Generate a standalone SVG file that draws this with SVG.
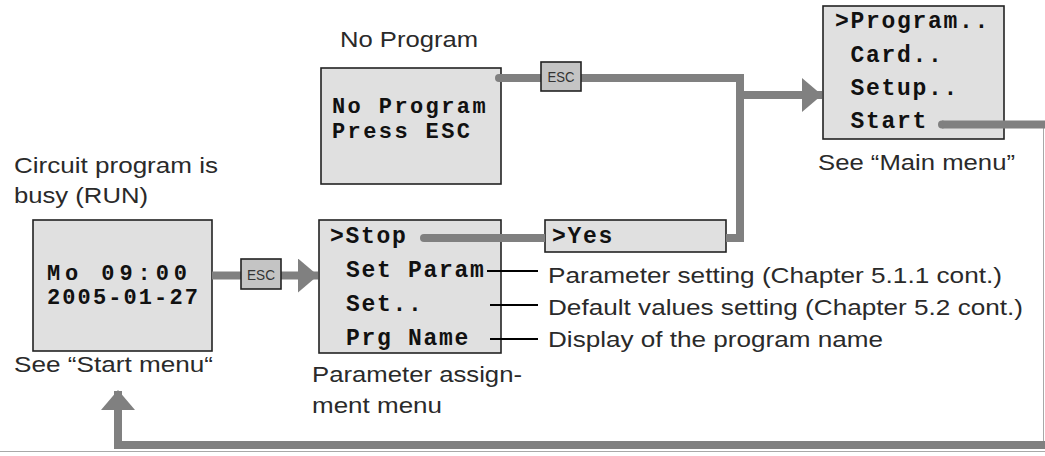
<svg xmlns="http://www.w3.org/2000/svg" width="1045" height="456" viewBox="0 0 1045 456">
<style>
.box{fill:#e0e0e0;stroke:#222;stroke-width:1.6}
.esc{fill:#c4c4c4;stroke:#222;stroke-width:1.6}
.mono{font-family:"Liberation Mono","Courier New",monospace;font-weight:bold;font-size:23px;letter-spacing:1.7px;fill:#111}
.sans{font-family:"Liberation Sans",Arial,sans-serif;font-size:22px;fill:#2a2a2a}
.esct{font-family:"Liberation Sans Narrow","Liberation Sans",Arial,sans-serif;font-size:14px;fill:#333}
.conn{fill:none;stroke:#808080;stroke-width:8}
.lead{stroke:#000;stroke-width:2}
.thin{stroke:#a8a8a8;stroke-width:1;fill:none}
</style>
<defs>
<marker id="ah" markerUnits="userSpaceOnUse" markerWidth="20" markerHeight="34" refX="20" refY="17" orient="auto">
<path d="M0,0 L20,17 L0,34 Z" fill="#808080"/>
</marker>
</defs>

<g id="run">
<text class="sans" x="14" y="173" textLength="204" lengthAdjust="spacingAndGlyphs">Circuit program is</text>
<text class="sans" x="14" y="203" textLength="134" lengthAdjust="spacingAndGlyphs">busy (RUN)</text>
<rect class="box" x="33" y="220" width="179" height="131"/>
<text class="mono" x="47" y="280" style="font-size:22px;letter-spacing:0" textLength="140" lengthAdjust="spacing">Mo 09:00</text>
<text class="mono" x="47" y="304" style="font-size:22px;letter-spacing:2.1px">2005-01-27</text>
<text class="sans" x="14" y="372" textLength="199" lengthAdjust="spacingAndGlyphs">See “Start menu“</text>
</g>

<g id="noprogram">
<text class="sans" x="340" y="47" textLength="138" lengthAdjust="spacingAndGlyphs">No Program</text>
<rect class="box" x="321" y="68" width="180" height="116"/>
<text class="mono" x="332" y="113" style="font-size:22px;letter-spacing:2.4px">No Program</text>
<text class="mono" x="332" y="138" style="font-size:22px;letter-spacing:2.4px">Press ESC</text>
</g>

<g id="param">
<rect class="box" x="319" y="220" width="182" height="133"/>
<text class="mono" x="330" y="243">&gt;Stop</text>
<text class="mono" x="346" y="277">Set Param</text>
<text class="mono" x="346" y="311">Set..</text>
<text class="mono" x="346" y="345">Prg Name</text>
<text class="sans" x="312" y="382" textLength="210" lengthAdjust="spacingAndGlyphs">Parameter assign-</text>
<text class="sans" x="312" y="413" textLength="130" lengthAdjust="spacingAndGlyphs">ment menu</text>
</g>

<g id="yes">
<rect class="box" x="545" y="220" width="181" height="32"/>
<text class="mono" x="552" y="243">&gt;Yes</text>
</g>

<g id="mainmenu">
<rect class="box" x="823" y="6" width="181" height="133"/>
<text class="mono" x="835" y="28">&gt;Program..</text>
<text class="mono" x="850.5" y="61.5">Card..</text>
<text class="mono" x="850.5" y="95">Setup..</text>
<text class="mono" x="850.5" y="128">Start</text>
<text class="sans" x="818" y="170" textLength="197" lengthAdjust="spacingAndGlyphs">See “Main menu”</text>
</g>

<g id="labels">
<text class="sans" x="548" y="283" textLength="454" lengthAdjust="spacingAndGlyphs">Parameter setting (Chapter 5.1.1 cont.)</text>
<text class="sans" x="548" y="315" textLength="475" lengthAdjust="spacingAndGlyphs">Default values setting (Chapter 5.2 cont.)</text>
<text class="sans" x="548" y="347" textLength="335" lengthAdjust="spacingAndGlyphs">Display of the program name</text>
</g>

<g id="connectors">
<line class="thin" x1="1043.5" y1="128" x2="1043.5" y2="441"/>
<line class="thin" x1="0" y1="451.5" x2="1045" y2="451.5"/>
<path class="conn" d="M212,275.5 H318" marker-end="url(#ah)"/>
<path class="conn" d="M499,78 H740 V238 H726"/>
<circle cx="499" cy="78" r="4" fill="#808080"/>
<path class="conn" d="M740,95 H822" marker-end="url(#ah)"/>
<path class="conn" d="M424,238 H545"/>
<circle cx="424" cy="238" r="4" fill="#808080"/>
<path class="conn" d="M942,124.5 H1049 V445 H118 V391"/>
<circle cx="942" cy="124.5" r="4" fill="#808080"/>
<path d="M101,410 L118,390 L135,410 Z" fill="#808080"/>
<line class="lead" x1="487" y1="271" x2="538" y2="271"/>
<line class="lead" x1="490" y1="305" x2="538" y2="305"/>
<line class="lead" x1="490" y1="339" x2="538" y2="339"/>
</g>

<g id="esc1">
<rect class="esc" x="241" y="259" width="40" height="30"/>
<text class="esct" x="261" y="280" text-anchor="middle" textLength="28" lengthAdjust="spacingAndGlyphs">ESC</text>
</g>
<g id="esc2">
<rect class="esc" x="541" y="62" width="40" height="29"/>
<text class="esct" x="561" y="82" text-anchor="middle" textLength="27" lengthAdjust="spacingAndGlyphs">ESC</text>
</g>
</svg>
